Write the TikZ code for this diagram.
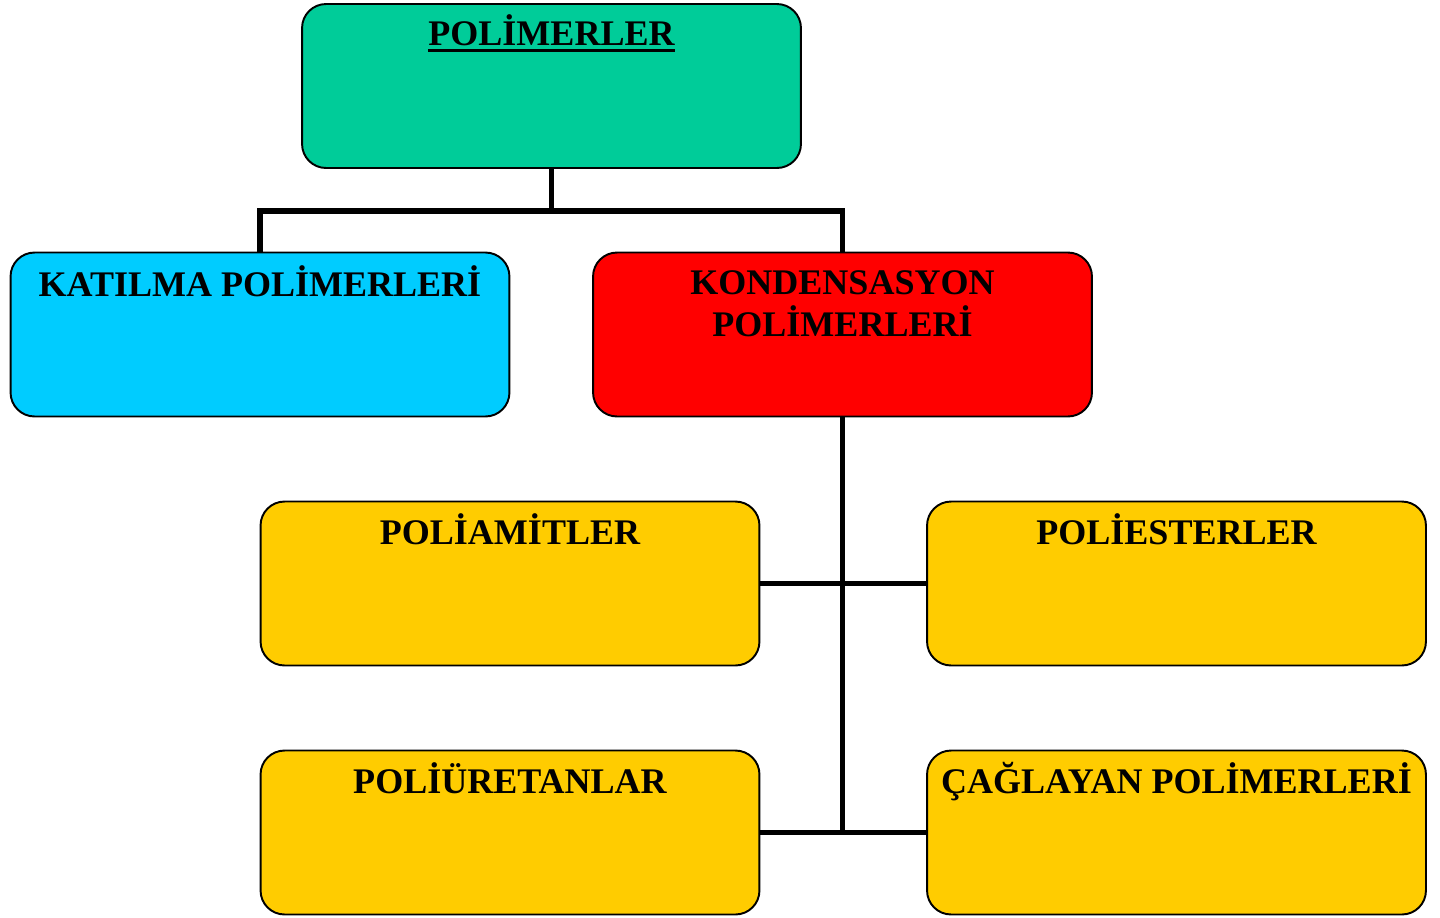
\documentclass[tikz,border=0pt]{standalone}
\usepackage{fontspec}
\setmainfont{Liberation Serif}
\usepackage{tikz}
\usetikzlibrary{positioning}

\definecolor{topgreen}{HTML}{00CC99}
\definecolor{addblue}{HTML}{00CCFF}
\definecolor{condred}{HTML}{FF0000}
\definecolor{subgold}{HTML}{FFCC00}

% thick underline for the top title
\newcommand{\titleline}[1]{\setbox0\hbox{#1}\rlap{\rule[-4pt]{\wd0}{1.7pt}}\box0}

\begin{document}
\begin{tikzpicture}[
        x=0.02cm, y=-0.02cm,
        box/.style={draw, line width=1.1pt, rounded corners=0.48cm, minimum width=9.98cm, minimum height=3.28cm, inner sep=0pt},
        title/.style={font=\fontsize{20.5}{24}\selectfont\bfseries, align=center, inner sep=0pt, anchor=base},
        link/.style={line width=3pt}
    ]
        \useasboundingbox (0,0) rectangle (1440,917);

        % Top box
        \node[box, fill=topgreen] (polimer) at (551.5, 86) {};
        \node[title] (polimerT) at ([yshift=-0.84cm]polimer.north) {\titleline{POLİMERLER}};

        % Second level
        \node[box, fill=addblue] (katilma) at (260, 334.5) {};
        \node[box, fill=condred] (kond) at (842.5, 334.5) {};
        \node[title] (katilmaT) at ([yshift=-0.9cm]katilma.north) {KATILMA POLİMERLERİ};
        \node[title] (kondT) at ([yshift=-1.7cm]kond.north) {KONDENSASYON\\POLİMERLERİ};

        % Third level
        \node[box, fill=subgold] (poliamit) at (510, 583.5) {};
        \node[box, fill=subgold] (poliester) at (1176.5, 583.5) {};
        \node[box, fill=subgold] (poliuret) at (510, 832.5) {};
        \node[box, fill=subgold] (caglayan) at (1176.5, 832.5) {};
        \node[title] (poliamitT) at ([yshift=-0.88cm]poliamit.north) {POLİAMİTLER};
        \node[title] (poliesterT) at ([yshift=-0.88cm]poliester.north) {POLİESTERLER};
        \node[title] (poliuretT) at ([yshift=-0.88cm]poliuret.north) {POLİÜRETANLAR};
        \node[title] (caglayanT) at ([yshift=-0.88cm]caglayan.north) {ÇAĞLAYAN POLİMERLERİ};

        % Connectors
        \coordinate (split) at (551.5, 211);
        \draw[link] (polimer.south) -- (split);
        \draw[link] (katilma.north) |- (split) -| (kond.north);
        \draw[link] (kond.south) -- (kond.south |- caglayan.center);
        \draw[link] (poliamit.east) -- (poliester.west);
        \draw[link] (poliuret.east) -- (caglayan.west);

    \end{tikzpicture}
\end{document}
